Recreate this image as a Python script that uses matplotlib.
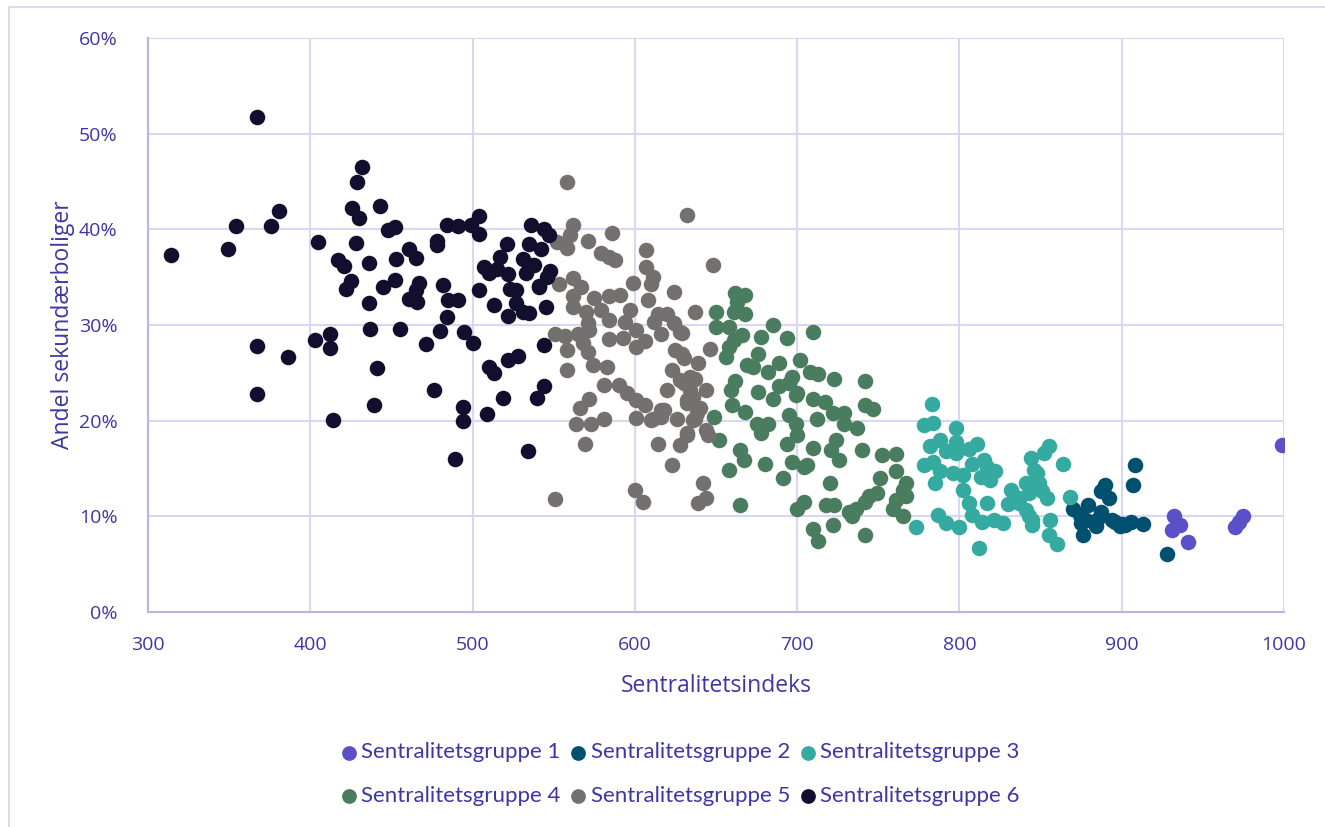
import matplotlib.pyplot as plt
from matplotlib.patches import Rectangle
from matplotlib.ticker import FuncFormatter

# Sentralitetsgruppe 1
g1_x = [999, 932, 936, 931, 941, 975, 972, 970]
g1_y = [17.5, 10.0, 9.1, 8.6, 7.3, 10.0, 9.4, 8.9]

# Sentralitetsgruppe 2
g2_x = [908, 907, 890, 887, 892, 879, 870, 874, 887, 885, 878, 875, 884, 876,
        896, 899, 902, 906, 913, 928, 894, 900]
g2_y = [15.4, 13.3, 13.3, 12.6, 11.9, 11.2, 10.8, 10.1, 10.5, 9.6, 9.6, 9.3, 9.0, 8.0,
        9.4, 9.0, 9.1, 9.4, 9.2, 6.1, 9.6, 9.2]

# Sentralitetsgruppe 3
g3_x = [783, 778, 784, 798, 788, 782, 792, 798, 798, 811, 778, 784, 788, 785, 796,
        802, 808, 815, 817, 822, 813, 819, 802, 806, 817, 808, 814, 821, 827, 800,
        792, 787, 773, 812, 832, 830, 837, 841, 843, 841, 845, 844, 848, 855, 852,
        846, 864, 849, 851, 854, 837, 868, 845, 856, 855, 860, 843, 806]
g3_y = [21.7, 19.5, 19.8, 19.2, 18.0, 17.3, 16.8, 17.8, 16.6, 17.6, 15.4, 15.7, 14.7, 13.5, 14.5,
        14.3, 15.5, 15.9, 15.2, 14.7, 14.1, 13.8, 12.8, 11.4, 11.4, 10.1, 9.4, 9.6, 9.3, 8.9,
        9.3, 10.1, 8.9, 6.7, 12.8, 11.3, 11.9, 13.5, 12.4, 10.7, 9.6, 16.1, 14.5, 17.4, 16.6,
        14.8, 15.5, 13.5, 12.6, 11.9, 11.4, 12.0, 9.1, 9.6, 8.0, 7.1, 10.0, 17.0]

# Sentralitetsgruppe 4
g4_x = [650, 662, 668, 663, 661, 668, 650, 658, 666, 661, 658, 656, 685, 678, 694,
        710, 676, 669, 673, 682, 689, 702, 708, 713, 723, 662, 659, 676, 685, 689,
        695, 697, 700, 710, 717, 722, 660, 668, 649, 675, 682, 678, 695, 699, 700,
        712, 652, 665, 667, 680, 658, 694, 710, 721, 697, 704, 706, 691, 720, 665,
        700, 704, 718, 723, 710, 722, 713, 699, 742, 747, 729, 729, 737, 724, 726,
        740, 752, 761, 751, 761, 767, 765, 767, 761, 749, 744, 742, 732, 736, 734,
        759, 765, 742, 742]
g4_y = [31.4, 33.3, 33.1, 32.4, 31.4, 31.2, 29.8, 29.8, 29.0, 28.4, 27.7, 26.7, 30.0, 28.7, 28.6,
        29.3, 27.0, 25.8, 25.6, 25.1, 26.0, 26.3, 25.1, 24.9, 24.4, 24.1, 23.2, 23.0, 22.3, 23.6,
        23.9, 24.6, 22.9, 22.3, 22.0, 20.8, 21.6, 20.9, 20.4, 19.7, 19.7, 18.7, 20.6, 19.7, 18.5,
        20.2, 18.0, 16.9, 15.9, 15.5, 14.8, 17.6, 17.1, 16.9, 15.7, 15.2, 15.4, 14.0, 13.5, 11.2,
        10.8, 11.5, 11.2, 11.2, 8.7, 9.1, 7.4, 22.7, 21.6, 21.2, 20.8, 19.7, 19.2, 18.0, 15.9,
        16.9, 16.4, 16.5, 14.0, 14.7, 13.5, 12.8, 12.1, 11.7, 12.4, 12.1, 11.5, 10.5, 10.8, 10.0,
        10.8, 10.0, 8.0, 24.1]

# Sentralitetsgruppe 5
g5_x = [558, 632, 562, 560, 552, 558, 571, 586, 579, 584, 588, 607, 607, 611, 610,
        648, 553, 562, 567, 562, 562, 575, 584, 591, 599, 608, 624, 570, 579, 584,
        597, 594, 571, 572, 565, 551, 557, 584, 593, 601, 601, 606, 614, 620, 612,
        616, 624, 629, 637, 646, 558, 568, 571, 558, 574, 583, 625, 630, 639, 623,
        628, 634, 620, 644, 632, 640, 581, 590, 572, 595, 601, 606, 566, 616, 601,
        611, 626, 637, 564, 573, 581, 645, 632, 614, 628, 569, 623, 642, 600, 605,
        644, 639, 551, 628, 629, 637, 630, 634, 636, 632, 638, 636, 644, 632, 618,
        616, 610]
g5_y = [44.9, 41.5, 40.5, 39.4, 38.7, 38.1, 38.8, 39.6, 37.5, 37.1, 36.8, 37.8, 36.1, 35.0, 34.3,
        36.3, 34.3, 34.9, 34.0, 33.0, 31.9, 32.8, 33.0, 33.1, 34.4, 32.6, 33.5, 31.4, 31.6, 30.5,
        31.6, 30.3, 30.2, 29.5, 29.1, 29.1, 28.8, 28.5, 28.6, 29.5, 27.7, 28.3, 31.2, 31.2, 30.3,
        29.1, 30.2, 29.2, 31.4, 27.5, 27.4, 28.1, 27.2, 25.3, 25.8, 25.6, 27.4, 26.5, 26.0, 25.3,
        24.3, 24.6, 23.2, 23.2, 22.2, 21.3, 23.7, 23.7, 22.3, 22.9, 22.2, 21.6, 21.3, 21.1, 20.3,
        20.2, 20.2, 20.2, 19.7, 19.7, 20.2, 18.5, 18.5, 17.6, 17.5, 17.6, 15.4, 13.5, 12.8, 11.5,
        11.9, 11.4, 11.8, 29.3, 27.0, 24.4, 23.9, 23.2, 22.5, 21.8, 20.8, 20.1, 19.0, 18.7, 21.1,
        20.4, 20.1]

# Sentralitetsgruppe 6
g6_x = [367, 314, 349, 354, 376, 381, 405, 417, 367, 386, 403, 412, 412, 367, 414,
        432, 429, 426, 430, 443, 448, 452, 428, 421, 436, 453, 461, 465, 478, 478,
        484, 491, 499, 504, 504, 425, 422, 445, 452, 436, 467, 465, 461, 466, 482,
        485, 491, 484, 437, 455, 471, 480, 495, 500, 441, 476, 439, 494, 494, 489,
        509, 519, 510, 513, 522, 528, 534, 544, 540, 544, 504, 513, 522, 507, 510,
        517, 521, 515, 522, 523, 527, 527, 531, 535, 531, 535, 533, 538, 535, 542,
        536, 544, 541, 545, 546, 547, 548, 541]
g6_y = [51.7, 37.3, 37.9, 40.4, 40.3, 41.9, 38.7, 36.8, 27.8, 26.7, 28.4, 29.1, 27.6, 22.8, 20.1,
        46.5, 45.0, 42.2, 41.2, 42.4, 39.9, 40.2, 38.6, 36.2, 36.5, 36.9, 37.9, 37.0, 38.8, 38.4,
        40.5, 40.3, 40.5, 41.4, 39.5, 34.6, 33.8, 34.0, 34.7, 32.3, 34.4, 33.7, 32.7, 32.4, 34.2,
        32.6, 32.6, 30.8, 29.6, 29.6, 28.0, 29.4, 29.3, 28.1, 25.5, 23.2, 21.6, 21.4, 20.0, 16.0,
        20.7, 22.4, 25.6, 25.0, 26.3, 26.8, 16.8, 27.9, 22.4, 23.6, 33.7, 32.1, 30.9, 36.1, 35.4,
        37.1, 38.5, 35.9, 35.3, 33.8, 33.7, 32.3, 31.4, 31.3, 36.9, 36.3, 35.4, 36.3, 38.5, 37.9,
        40.5, 40.0, 34.1, 31.9, 35.0, 39.4, 35.6, 34.0]

groups = [
    ("Sentralitetsgruppe 1", g1_x, g1_y, "#5B50C8"),
    ("Sentralitetsgruppe 2", g2_x, g2_y, "#02506F"),
    ("Sentralitetsgruppe 3", g3_x, g3_y, "#35AAA1"),
    ("Sentralitetsgruppe 4", g4_x, g4_y, "#4A7D5F"),
    ("Sentralitetsgruppe 5", g5_x, g5_y, "#747070"),
    ("Sentralitetsgruppe 6", g6_x, g6_y, "#120E2D"),
]

text_col = "#3D37A3"
grid_col = "#D9D6F2"
spine_col = "#B9B3E8"

plt.rcParams['font.family'] = ['Open Sans', 'DejaVu Sans']

fig = plt.figure(figsize=(13.25, 8.27), dpi=100)
ax = fig.add_axes([148 / 1325, 1 - 612 / 827, 1136 / 1325, 574 / 827])

# chart border
fig.patches.append(Rectangle((9 / 1325, -0.05), 1.1, 1 - 7 / 827 + 0.05,
                             transform=fig.transFigure, fill=False,
                             edgecolor="#D6D3F0", linewidth=1.2))

handles = []
for name, xs, ys, col in groups:
    h = ax.scatter(xs, ys, s=125, color=col, linewidths=0, label=name, zorder=3)
    handles.append(h)

ax.set_xlim(300, 1000)
ax.set_ylim(0, 60)
ax.set_xticks(range(300, 1001, 100))
ax.set_yticks(range(0, 61, 10))
ax.yaxis.set_major_formatter(FuncFormatter(lambda v, p: f"{int(v)}%"))
ax.grid(True, color=grid_col, linewidth=1.5, zorder=0)
ax.set_axisbelow(True)
for side in ["top", "right"]:
    ax.spines[side].set_visible(False)
for side in ["left", "bottom"]:
    ax.spines[side].set_color(spine_col)
    ax.spines[side].set_linewidth(1.5)
ax.tick_params(length=0, colors=text_col, labelsize=14)
ax.tick_params(axis="x", pad=17)
ax.tick_params(axis="y", pad=22)

ax.set_xlabel("Sentralitetsindeks", color=text_col, fontsize=16.5)
ax.set_ylabel("Andel sekundærboliger", color=text_col, fontsize=16.5)
ax.xaxis.set_label_coords(0.5, -0.108)
ax.yaxis.set_label_coords(-0.064, 0.5)

# row-wise legend order: 1 2 3 / 4 5 6
order = [0, 3, 1, 4, 2, 5]
leg = fig.legend(handles=[handles[i] for i in order], loc="center",
                 bbox_to_anchor=(0.513, 0.064), ncol=3, frameon=False,
                 handlelength=0.8, handletextpad=0.15, columnspacing=0.4,
                 labelspacing=1.05, markerscale=0.95,
                 prop={'family': ['Lato'], 'size': 16})
for t in leg.get_texts():
    t.set_color(text_col)

fig.savefig("out.png", dpi=100)
